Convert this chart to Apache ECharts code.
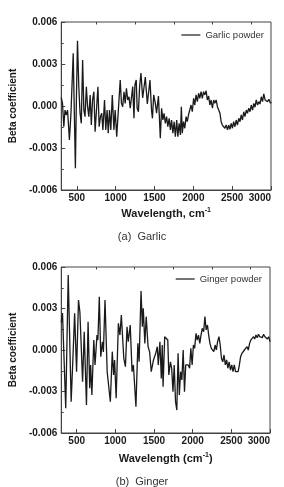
<!DOCTYPE html>
<html>
<head>
<meta charset="utf-8">
<script src="https://cdn.jsdelivr.net/npm/echarts@6/dist/echarts.min.js"></script>
<style>
  html, body { margin: 0; padding: 0; background: #fff; }
  #chart { width: 284px; height: 487px; }
</style>
</head>
<body>
<div id="chart"></div>
<script>
// wavelength (cm-1) / beta coefficient
const garlicX = [300, 316, 333, 348, 364, 381, 405, 425, 437, 454, 470, 482, 494, 509, 526, 542, 558, 575, 591, 606,
    623, 639, 655, 672, 687, 703, 720, 736, 756, 772, 788, 805, 821, 836, 857, 873, 890, 905, 921, 938,
    957, 978, 994, 1014, 1035, 1059, 1075, 1091, 1108, 1123, 1139, 1156, 1172, 1188, 1205, 1220, 1236, 1248, 1265, 1277,
    1293, 1309, 1326, 1348, 1382, 1408, 1442, 1462, 1474, 1490, 1511, 1527, 1551, 1563, 1575, 1592, 1608, 1623, 1640, 1656,
    1672, 1689, 1705, 1720, 1737, 1753, 1769, 1786, 1801, 1817, 1834, 1846, 1858, 1874, 1890, 1907, 1922, 1938, 1955, 1971,
    1987, 2004, 2019, 2035, 2052, 2068, 2083, 2100, 2116, 2132, 2149, 2165, 2180, 2197, 2213, 2229, 2246, 2262, 2277, 2294,
    2310, 2326, 2343, 2358, 2374, 2391, 2407, 2423, 2440, 2455, 2471, 2488, 2504, 2519, 2536, 2552, 2568, 2585, 2601, 2617,
    2633, 2649, 2665, 2682, 2697, 2713, 2730, 2746, 2762, 2779, 2794, 2810, 2827, 2843, 2858, 2875, 2891, 2907, 2924, 2940,
    2955, 2972, 2994, 3000]
const garlicY = [0.00062, 0.00019, -0.00148, -0.00029, -0.00064, -0.00029, -0.00243, -0.00052, -0.00064, 0.00376,
    -0.0010, -0.00445, 0.00021, 0.00466, 0.00138, -0.0005, -0.00124, 0.00329, -0.00029, -0.00076,
    0.00138, -0.00005, -0.00076, 0.00079, -0.00136, 0.00043, 0.00102, -0.00184, -0.00005, 0.00138,
    -0.00148, -0.00076, -0.00052, -0.00171, 0.00043, -0.00171, -0.00029, -0.00195, -0.00029, -0.00171,
    0.00079, -0.00171, -0.00029, -0.00219, -0.00231, 0.00186, 0.00019, -0.00005, 0.00102, 0.00019,
    0.00126, 0.00043, 0.00066, -0.00016, -0.00029, 0.00138, -0.00088, 0.0015, 0.00186, -0.00016,
    -0.00041, 0.00138, 0.00236, 0.00057, 0.00207, 0.00014, 0.00186, -0.00029, -0.00088, 0.00079,
    0.00019, -0.00052, 0.00071, -0.00076, -0.00231, -0.00016, -0.001, -0.00052, -0.00124, -0.00076,
    -0.00148, -0.00088, -0.00171, -0.001, -0.00195, -0.00112, -0.00219, -0.001, -0.00219, -0.00124,
    -0.00207, -0.00005, -0.00195, -0.00112, -0.00159, -0.00076, -0.00112, -0.00064, -0.00076, 0.00007,
    -0.00041, 0.00055, 0.00007, 0.00079, 0.00031, 0.00091, 0.00055, 0.00102, 0.00055, 0.00102,
    0.00079, 0.00109, 0.00043, 0.00071, 0.00007, 0.00043, -0.00016, 0.00043, 0.00019, 0.00043,
    -0.00005, 0.00007, -0.00052, -0.00112, -0.00136, -0.00124, -0.00159, -0.00136, -0.00171, -0.00136,
    -0.00166, -0.00124, -0.00159, -0.00112, -0.00148, -0.001, -0.00136, -0.00088, -0.00112, -0.00064,
    -0.001, -0.00041, -0.00076, -0.00029, -0.00052, -0.00016, -0.00041, 0.00007, -0.00029, 0.00019,
    -0.00009, 0.00043, 0.00007, 0.00031, 0.00014, 0.00066, 0.00031, 0.00086, 0.00043, 0.00055,
    0.00031, 0.00048, 0.00019, 0.00028]

const gingerX = [300, 316, 358, 390, 428, 449, 461, 473, 498, 523, 541, 576, 597, 626, 647, 668, 680, 696, 721, 737,
    762, 774, 792, 811, 833, 845, 866, 894, 935, 960, 977, 990, 1010, 1039, 1059, 1077, 1109, 1130, 1151, 1167,
    1192, 1216, 1233, 1266, 1291, 1307, 1332, 1349, 1361, 1381, 1399, 1423, 1443, 1464, 1493, 1522, 1542, 1555, 1576, 1594,
    1606, 1617, 1638, 1659, 1678, 1691, 1712, 1728, 1745, 1761, 1778, 1795, 1811, 1827, 1844, 1860, 1877, 1894, 1910, 1926,
    1943, 1960, 1976, 1993, 2009, 2025, 2043, 2059, 2075, 2092, 2108, 2124, 2142, 2158, 2174, 2191, 2207, 2223, 2241, 2257,
    2273, 2290, 2306, 2322, 2340, 2356, 2372, 2389, 2405, 2422, 2439, 2455, 2471, 2489, 2505, 2521, 2538, 2554, 2570, 2588,
    2604, 2620, 2637, 2653, 2669, 2687, 2703, 2719, 2736, 2752, 2768, 2786, 2802, 2818, 2835, 2851, 2867, 2885, 2901, 2917,
    2934, 2950, 2966, 2983, 3000]
const gingerY = [0.0020, 0.00267, -0.00421, 0.00542, -0.00374, -0.00085, -0.00072, 0.00265, -0.00157, 0.00361,
    0.00275, -0.00229, 0.00132, -0.00398, 0.00205, -0.00277, -0.00108, -0.00325, 0.00072, -0.00108,
    0.00108, 0.00072, 0.00385, -0.00048, 0.0006, -0.00014, 0.00361, -0.00157, -0.00374, -0.00012,
    -0.00181, -0.00072, -0.00349, 0.00193, 0.00108, 0.00253, -0.0006, -0.00121, 0.00168, 0.0006,
    0.00181, -0.00157, -0.00108, -0.0041, 0.00048, -0.00085, 0.00427, 0.00168, 0.00301, 0.00048,
    0.00241, 0.00024, -0.00014, -0.00157, -0.00072, -0.00024, 0.00024, -0.00108, 0.0006, -0.00205,
    0.00036, -0.00265, 0.00096, 0.00108, 0.00072, -0.00181, -0.00085, -0.00132, -0.00301, -0.00108,
    -0.00374, -0.00434, -0.00024, -0.00325, -0.00157, -0.00217, 0, -0.00301, -0.00108, -0.00121,
    -0.00108, -0.00132, 0.00012, -0.00108, 0.00036, 0.00012, 0.00121, 0.00072, 0.00108, 0.00048,
    0.00108, 0.00157, 0.00132, 0.00241, 0.00145, 0.00181, 0.00108, 0.00048, 0.00012, 0,
    -0.00012, 0.00036, 0, 0.0006, 0.00096, 0.00036, -0.0006, -0.00085, -0.00036, -0.00108,
    -0.00072, -0.00132, -0.00085, -0.00145, -0.00108, -0.00157, -0.00108, -0.00157, -0.00168, -0.00157,
    -0.00108, -0.00048, -0.00024, -0.00036, 0, -0.00012, 0.00024, 0, 0.00048, 0.00072,
    0.0006, 0.00096, 0.0008, 0.00108, 0.00089, 0.00114, 0.00096, 0.00108, 0.00089, 0.00114,
    0.00096, 0.00108, 0.0008, 0.00096, 0.0006]

const xTicks = [500, 1000, 1500, 2000, 2500, 3000]
const xMinorTicks = [750, 1250, 1750, 2250, 2750]
const panelNames = ['Garlic powder', 'Ginger powder']
const panelCaptions = ['(a)  Garlic', '(b)  Ginger']
const xTitles = ['Wavelength, cm{sup|-1}', 'Wavelength (cm{sup|-1})']

const font = 'Liberation Sans, Arial, sans-serif'
const ink = '#1a1a1a'
const grids = [
    { left: 48, top: 22, width: 223, height: 168 },
    { left: 52, top: 267, width: 218, height: 166 }
]

const zip = ( xs, ys ) => xs.map( ( x, i ) => [ x, ys[ i ] ] )
const seriesData = [ zip( garlicX, garlicY ), zip( gingerX, gingerY ) ]

let xAxis = [], yAxis = [], series = [], legend = [], title = []
grids.forEach( ( g, i ) => {
    g.show = true
    g.borderColor = '#444'
    g.borderWidth = 1
    // main x axis with labels
    xAxis.push( {
        type: 'value',
        gridIndex: i,
        min: 300,
        max: 3000,
        name: xTitles[ i ],
        nameLocation: 'middle',
        nameGap: i ? 19 : 17,
        nameTextStyle: {
            fontFamily: font, fontWeight: 'bold', fontSize: 11, color: ink,
            rich: { sup: { fontSize: 7, fontWeight: 'bold', color: ink, padding: [ 0, 0, 6, 0 ] } }
        },
        axisLine: { onZero: false, lineStyle: { color: '#444', width: 1 } },
        axisTick: { inside: true, length: 4, customValues: xTicks, lineStyle: { color: '#444' } },
        axisLabel: {
            customValues: xTicks, margin: 3, alignMaxLabel: 'right',
            fontFamily: font, fontWeight: 'bold', fontSize: 10, color: ink,
            formatter: v => String( v )
        },
        splitLine: { show: false }
    } )
    // minor ticks only
    xAxis.push( {
        type: 'value',
        gridIndex: i,
        min: 300,
        max: 3000,
        axisLine: { show: false, onZero: false },
        axisTick: { inside: true, length: 2.5, customValues: xMinorTicks, lineStyle: { color: '#444' } },
        axisLabel: { show: false },
        splitLine: { show: false }
    } )
    yAxis.push( {
        type: 'value',
        gridIndex: i,
        min: -0.006,
        max: 0.006,
        interval: 0.003,
        name: 'Beta coefficient',
        nameLocation: 'middle',
        nameGap: i ? 36 : 33,
        nameTextStyle: { fontFamily: font, fontWeight: 'bold', fontSize: 10, color: ink },
        axisLine: { show: true, onZero: false, lineStyle: { color: '#444', width: 1 } },
        axisTick: { inside: true, length: 4, lineStyle: { color: '#444' } },
        minorTick: { show: true, splitNumber: 2, length: 2.5, lineStyle: { color: '#444' } },
        axisLabel: {
            margin: 4, fontFamily: font, fontWeight: 'bold', fontSize: 10, color: ink,
            formatter: v => v.toFixed( 3 )
        },
        splitLine: { show: false }
    } )
    series.push( {
        type: 'line',
        name: panelNames[ i ],
        xAxisIndex: i * 2,
        yAxisIndex: i,
        symbol: 'none',
        lineStyle: { color: ink, width: 1.3 },
        itemStyle: { color: ink },
        data: seriesData[ i ]
    } )
    legend.push( {
        data: [ panelNames[ i ] ],
        right: i ? 17 : 15,
        top: i ? 269 : 25,
        icon: 'rect',
        itemWidth: 19,
        itemHeight: 1.2,
        itemGap: 4,
        textStyle: { fontFamily: font, fontSize: 9.5, color: '#333' }
    } )
    title.push( {
        text: panelCaptions[ i ],
        left: 'center',
        top: i ? 471 : 226,
        textStyle: { fontFamily: font, fontWeight: 'normal', fontSize: 11, color: '#333' }
    } )
} )

const chart = echarts.init( document.getElementById( 'chart' ) )
chart.setOption( {
    animation: false,
    title,
    legend,
    grid: grids,
    xAxis,
    yAxis,
    series
} )
</script>
</body>
</html>
